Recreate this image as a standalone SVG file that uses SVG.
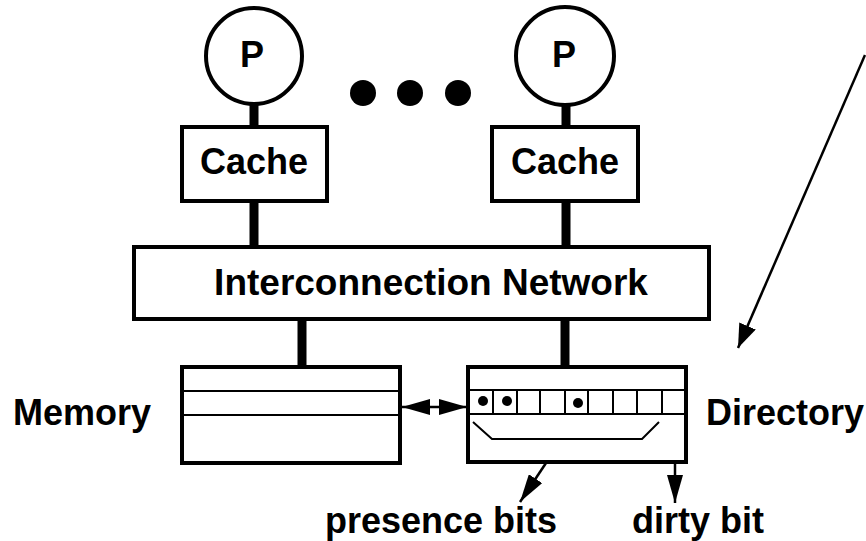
<svg xmlns="http://www.w3.org/2000/svg" width="866" height="541" viewBox="0 0 866 541">
<defs>
<style>
text{font-family:"Liberation Sans",Arial,sans-serif;font-weight:bold;font-size:36px;fill:#000}
.box{fill:#fff;stroke:#000;stroke-width:4}
.thin{fill:none;stroke:#000;stroke-width:2}
.stem{stroke:#000;stroke-width:9}
.arr{fill:none;stroke:#000;stroke-width:2.5}
</style>
<marker id="ah" viewBox="0 0 28 16" refX="28" refY="8" markerWidth="28" markerHeight="16" markerUnits="userSpaceOnUse" orient="auto-start-reverse">
<path d="M0,0 L28,8 L0,16 z" fill="#000"/>
</marker>
<marker id="ahb" viewBox="0 0 24 18" refX="24" refY="9" markerWidth="24" markerHeight="18" markerUnits="userSpaceOnUse" orient="auto">
<path d="M0,0 L24,9 L0,18 z" fill="#000"/>
</marker>
</defs>
<g id="connectors">
<line class="stem" x1="254" y1="104" x2="254" y2="127"/>
<line class="stem" x1="566" y1="105" x2="566" y2="127"/>
<line class="stem" x1="254" y1="201" x2="254" y2="247"/>
<line class="stem" x1="566" y1="201" x2="566" y2="247"/>
<line class="stem" x1="302" y1="319" x2="302" y2="367"/>
<line class="stem" x1="565" y1="319" x2="565" y2="367"/>
<line class="arr" x1="402" y1="407" x2="467" y2="407" marker-start="url(#ah)" marker-end="url(#ah)"/>
<line class="arr" x1="865" y1="55" x2="738" y2="348" marker-end="url(#ahb)"/>
<line class="arr" x1="562" y1="439" x2="520" y2="502" marker-end="url(#ah)"/>
<line class="arr" x1="675" y1="404" x2="675" y2="503" marker-end="url(#ah)"/>
</g>
<g id="p1"><circle cx="254" cy="56" r="48" class="box" stroke-width="3"/><text x="252" y="67" text-anchor="middle">P</text></g>
<g id="p2"><circle cx="565" cy="56" r="49" class="box" stroke-width="3"/><text x="564" y="67" text-anchor="middle">P</text></g>
<g id="dots"><circle cx="363" cy="93" r="13"/><circle cx="410" cy="93" r="13"/><circle cx="458" cy="93" r="13"/></g>
<g id="cache1"><rect x="182" y="127" width="145" height="74" class="box"/><text x="254" y="174" text-anchor="middle">Cache</text></g>
<g id="cache2"><rect x="492" y="127" width="146" height="74" class="box"/><text x="565" y="174" text-anchor="middle">Cache</text></g>
<g id="network"><rect x="134" y="247" width="575" height="72" class="box"/><text x="431" y="295" text-anchor="middle" style="font-size:37px">Interconnection Network</text></g>
<g id="memory"><rect x="182" y="367" width="218" height="96" class="box"/>
<line class="thin" x1="182" y1="391" x2="400" y2="391"/><line class="thin" x1="182" y1="415" x2="400" y2="415"/></g>
<g id="directory"><rect x="468" y="367" width="218" height="95" class="box"/>
<path class="thin" d="M468,390H686M468,414H686M493,390V414M517,390V414M540,390V414M565,390V414M588,390V414M613,390V414M637,390V414M662,390V414"/>
<circle cx="483" cy="401" r="5"/><circle cx="507" cy="401" r="5"/><circle cx="578" cy="403" r="5"/>
<polyline class="thin" points="473,422 492,439 642,439 659,422"/></g>
<g id="labels">
<text x="13" y="425">Memory</text>
<text x="706" y="425">Directory</text>
<text x="325" y="533">presence bits</text>
<text x="632" y="533">dirty bit</text>
</g>
</svg>
